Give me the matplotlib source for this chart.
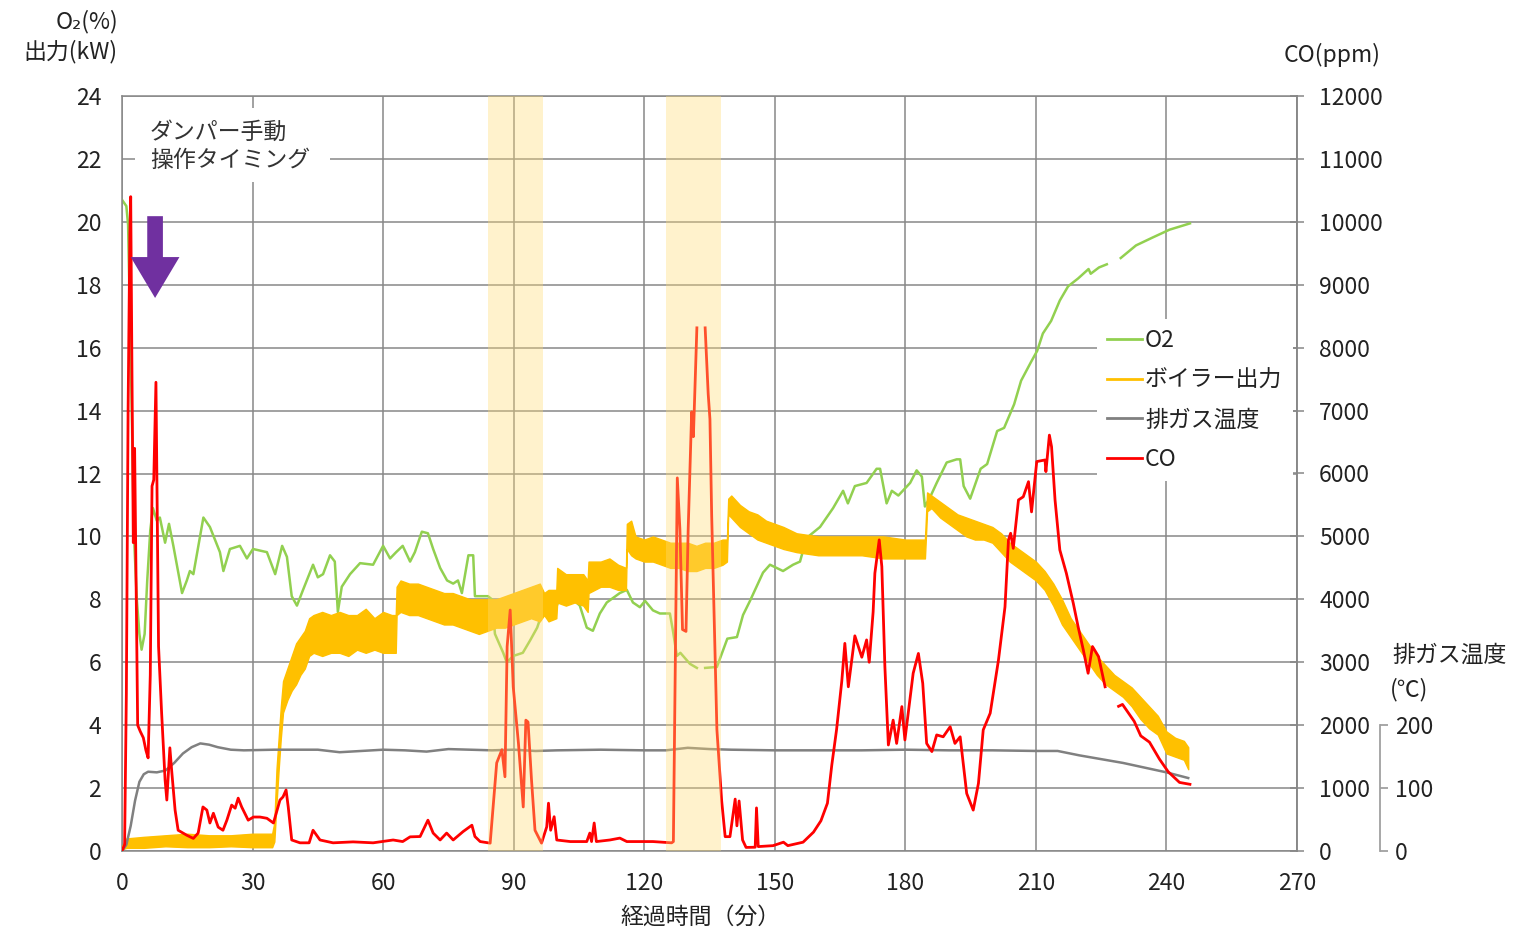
import matplotlib
matplotlib.use('Agg')
import matplotlib.pyplot as plt
import numpy as np
from matplotlib.lines import Line2D
from matplotlib.patches import FancyArrow, Rectangle

# ── data (time in minutes) ──────────────────────────────────────────
o2_t = [0.0, 0.5, 1.0, 1.4, 1.8, 2.3, 2.7, 3.4, 4.0, 4.5, 5.2, 5.8, 6.5, 7.1, 8.0, 8.7,
        9.9, 10.8, 11.8, 13.8, 14.9, 15.6, 16.4, 18.7, 20.2, 22.5, 23.3, 24.8, 27.1, 28.7,
        30.1, 33.3, 35.2, 36.8, 37.9, 39.0, 40.2, 41.6, 43.9, 45.0, 46.2, 47.8, 48.9, 49.6,
        50.5, 52.4, 54.7, 57.7, 60.0, 61.6, 63.0, 64.5, 66.2, 67.3, 68.9, 70.3, 71.5, 73.1,
        74.7, 76.1, 77.2, 78.1, 79.6, 80.7, 81.1, 84.1, 85.0, 85.7, 87.6, 88.4, 89.9, 92.1,
        93.8, 95.4, 96.5, 97.9, 99.5, 100.6, 102.2, 103.7, 105.2, 106.8, 108.2, 109.8, 111.4,
        114.4, 116.0, 117.4, 119.0, 120.2, 122.0, 123.6, 125.9, 126.6, 127.5, 128.3, 130.5,
        132.1, 133.0, 134.0, 136.7, 139.1, 141.3, 142.7, 144.3, 145.8, 147.3, 148.9, 151.9,
        154.2, 155.8, 157.3, 160.4, 163.4, 165.7, 166.8, 168.4, 171.1, 173.4, 174.2, 175.7,
        176.9, 178.4, 181.1, 182.6, 183.8, 184.5, 185.7, 187.2, 189.5, 191.8, 192.6, 193.4,
        194.9, 197.3, 198.8, 201.1, 202.7, 205.0, 206.6, 208.9, 210.3, 211.6, 213.5, 215.5,
        217.4, 219.7, 222.1, 222.6, 224.5, 226.3, 227.5, 229.5, 233.0, 236.8, 240.7, 245.4]
o2_v = [20.7, 20.6, 20.5, 19.9, 17.1, 13.6, 10.2, 8.0, 6.9, 6.4, 6.9, 8.6, 10.2, 10.9, 10.5, 10.6,
        9.8, 10.4, 9.7, 8.2, 8.6, 8.9, 8.8, 10.6, 10.3, 9.5, 8.9, 9.6, 9.7, 9.3,
        9.6, 9.5, 8.8, 9.7, 9.35, 8.1, 7.8, 8.3, 9.1, 8.7, 8.8, 9.4, 9.2, 7.6,
        8.4, 8.8, 9.15, 9.1, 9.7, 9.3, 9.5, 9.7, 9.2, 9.5, 10.15, 10.1, 9.6, 9.0,
        8.6, 8.5, 8.6, 8.2, 9.4, 9.4, 8.1, 8.1, 8.0, 6.9, 6.3, 6.0, 6.2, 6.3,
        6.7, 7.1, 7.55, 7.45, 7.65, 8.05, 7.9, 8.0, 7.8, 7.1, 7.0, 7.55, 7.9,
        8.2, 8.3, 7.9, 7.75, 7.95, 7.65, 7.55, 7.55, 7.0, 6.2, 6.3, 5.95,
        5.82, np.nan, 5.82, 5.85, 6.75, 6.8, 7.5, 7.95, 8.4, 8.85, 9.1, 8.9,
        9.1, 9.2, 9.95, 10.3, 10.9, 11.45, 11.05, 11.6, 11.7, 12.15, 12.15, 11.05,
        11.45, 11.3, 11.7, 12.1, 11.9, 10.95, 11.25, 11.7, 12.35, 12.45, 12.45, 11.6,
        11.2, 12.15, 12.3, 13.35, 13.45, 14.2, 14.95, 15.55, 15.9, 16.45, 16.85, 17.5,
        17.95, 18.2, 18.5, 18.35, 18.55, 18.65, np.nan, 18.85, 19.25, 19.5, 19.75, 19.95]

# boiler output: the trace is very noisy, kept as its lower / upper envelope
boiler_t = [0, 1, 5, 10, 15, 20, 25, 30, 34.5, 35, 35.5, 36, 36.5, 37, 38, 39, 40, 41, 42, 43,
            44, 46, 48, 50, 52, 54, 56, 58, 60, 62, 62.9, 63.1, 64, 66, 68, 70, 72, 74, 76, 78,
            80, 82, 84, 86, 88, 90, 92, 94, 96, 97, 98, 99.8, 100, 102, 104, 106, 107, 107.2,
            110, 112, 114, 115.8, 116, 117, 118, 120, 122, 124, 126, 128, 130, 132, 134, 136,
            138, 139, 139.3, 140, 142, 144, 146, 148, 150, 152, 155, 160, 165, 170, 175, 180,
            184.5, 185, 186, 188, 190, 192, 194, 196, 198, 200, 202, 204, 206, 208, 210, 212,
            214, 216, 218, 220, 222, 224, 226, 228, 230, 232, 234, 236, 238, 240, 242, 244, 245]
boiler_lo = [0.05, 0.1, 0.1, 0.15, 0.12, 0.12, 0.15, 0.12, 0.12, 0.3, 1.5, 2.6, 3.6, 4.4, 4.8, 5.1, 5.3, 5.6, 5.8, 6.2,
             6.3, 6.2, 6.3, 6.3, 6.2, 6.4, 6.3, 6.4, 6.3, 6.3, 6.3, 7.5, 7.6, 7.5, 7.5, 7.4, 7.3, 7.2, 7.2, 7.1,
             7.0, 6.9, 7.0, 7.1, 7.1, 7.2, 7.3, 7.4, 7.3, 7.5, 7.3, 7.4, 7.9, 7.8, 7.9, 7.8, 7.6, 8.2,
             8.4, 8.4, 8.3, 8.3, 9.6, 9.4, 9.3, 9.2, 9.2, 9.1, 9.0, 9.0, 8.9, 8.9, 9.0, 9.0,
             9.1, 9.2, 10.7, 10.6, 10.3, 10.1, 9.9, 9.8, 9.7, 9.6, 9.5, 9.4, 9.4, 9.4, 9.3, 9.3,
             9.3, 10.8, 10.9, 10.6, 10.4, 10.2, 10.0, 9.9, 9.9, 9.8, 9.5, 9.2, 9.0, 8.8, 8.6, 8.3,
             7.8, 7.2, 6.8, 6.4, 6.0, 5.6, 5.3, 5.1, 4.9, 4.6, 4.2, 3.9, 3.7, 3.1, 3.0, 2.9, 2.6]
boiler_hi = [0.15, 0.4, 0.45, 0.5, 0.55, 0.5, 0.5, 0.55, 0.55, 0.9, 2.6, 3.6, 4.6, 5.4, 5.8, 6.2, 6.6, 6.8, 7.0, 7.4,
             7.5, 7.6, 7.5, 7.6, 7.5, 7.5, 7.7, 7.4, 7.6, 7.5, 7.5, 8.4, 8.6, 8.5, 8.5, 8.4, 8.3, 8.2, 8.2, 8.1,
             8.0, 8.0, 8.0, 8.0, 8.1, 8.2, 8.3, 8.4, 8.5, 8.2, 8.3, 8.3, 9.0, 8.8, 8.8, 8.8, 8.6, 9.2,
             9.2, 9.3, 9.1, 9.0, 10.4, 10.5, 10.0, 9.9, 10.0, 9.9, 9.8, 9.8, 9.8, 9.7, 9.8, 9.8,
             9.9, 9.9, 11.2, 11.3, 11.0, 10.8, 10.7, 10.5, 10.4, 10.3, 10.1, 10.0, 10.0, 10.0, 10.0, 9.9,
             9.9, 11.4, 11.3, 11.1, 10.9, 10.7, 10.6, 10.5, 10.4, 10.3, 10.1, 9.8, 9.6, 9.4, 9.2, 8.9,
             8.5, 8.0, 7.4, 7.0, 6.6, 6.2, 5.9, 5.6, 5.4, 5.2, 4.9, 4.6, 4.3, 3.8, 3.6, 3.5, 3.3]

temp_t = [0, 1, 2, 3, 4, 5, 6, 8, 10, 12, 14, 16, 18, 20, 22, 25, 28, 35, 45, 50, 55, 60,
          65, 70, 75, 80, 85, 90, 95, 100, 110, 120, 125, 130, 135, 140, 150, 160, 170, 180,
          190, 200, 210, 215, 220, 230, 240, 245]
temp_c = [0, 10, 40, 80, 110, 122, 126, 125, 128, 140, 155, 165, 171, 169, 165, 161, 160, 161,
          161, 157, 159, 161, 160, 158, 162, 161, 160, 161, 159, 160, 161, 160, 160, 164, 162,
          161, 160, 160, 160, 161, 160, 160, 159, 159, 152, 140, 125, 116]

co_t = [0.0, 0.6, 1.0, 1.4, 1.8, 2.0, 2.3, 2.6, 2.9, 3.2, 3.6, 4.2, 4.9, 5.5, 6.0, 6.5, 6.9, 7.3,
        7.8, 8.1, 8.4, 9.1, 9.9, 10.3, 11.0, 11.4, 12.2, 12.9, 14.9, 16.4, 17.5, 18.6, 19.5,
        20.2, 21.0, 22.1, 23.2, 24.1, 25.2, 26.0, 26.7, 27.5, 29.0, 30.2, 31.7, 33.3, 34.8,
        36.3, 37.0, 37.7, 38.2, 39.0, 40.9, 43.0, 43.9, 45.5, 48.5, 53.1, 57.7, 62.3, 64.5,
        66.2, 68.5, 70.3, 71.5, 73.1, 74.6, 76.1, 78.4, 80.4, 81.1, 82.3, 84.6, 86.1, 87.3,
        88.0, 88.5, 89.2, 89.9, 91.1, 92.2, 92.8, 93.3, 94.1, 94.9, 96.4, 97.6, 98.0, 98.5,
        99.3, 99.9, 103.0, 106.8, 107.5, 107.9, 108.5, 109.0, 112.1, 114.4, 116.0, 122.0,
        126.3, 126.7, 127.6, 128.2, 128.8, 129.6, 130.1, 130.9, 131.3, 132.1, 133.0, 134.0,
        134.7, 135.1, 135.5, 136.7, 137.8, 138.6, 139.7, 140.9, 141.3, 141.8, 142.6, 143.4,
        145.5, 145.8, 146.2, 149.6, 152.0, 153.0, 156.5, 158.9, 160.6, 162.1, 163.1, 164.2,
        165.4, 166.1, 166.9, 168.4, 170.0, 171.1, 171.7, 172.6, 173.0, 174.0, 174.6, 175.3,
        176.1, 177.2, 178.0, 179.2, 179.9, 181.8, 183.0, 184.0, 184.9, 186.1, 187.2, 188.7,
        190.3, 191.4, 192.6, 194.1, 195.6, 196.8, 197.9, 199.5, 201.4, 202.9, 203.7, 204.2,
        204.8, 206.0, 207.1, 208.3, 209.0, 210.2, 212.1, 212.3, 213.1, 213.6, 214.4, 215.5,
        217.0, 218.6, 219.7, 220.9, 222.0, 223.0, 224.4, 225.9, 227.5, 229.0, 229.9, 232.6,
        234.1, 236.1, 238.4, 240.4, 243.0, 245.4]
co_ppm = [0, 100, 2500, 7000, 9800, 10400, 7500, 4900, 6400, 4500, 2000, 1900, 1800, 1600, 1480,
          2800, 5800, 5900, 7450, 5400, 3250, 2200, 1130, 810, 1640, 1290, 650, 330, 250, 200,
          285, 700, 650, 445, 600, 380, 330, 490, 730, 680, 840, 700, 490, 540, 540, 520, 445,
          810, 860, 970, 700, 175, 130, 130, 330, 175, 130, 145, 130, 175, 150, 225, 230, 490,
          285, 175, 285, 175, 310, 410, 230, 150, 125, 1400, 1610, 1180, 3250, 3830, 2610,
          1710, 700, 2080, 2050, 1130, 330, 125, 385, 760, 330, 545, 175, 150, 150, 285, 150,
          445, 150, 175, 205, 150, 150, 130, 150, 5930, 5110, 3520, 3490, 5110, 6980, 6585,
          8315, np.nan, 8315, 7265, 6865, 5335, 1930, 795, 228, 228, 825, 400, 795, 175, 57,
          60, 685, 70, 85, 140, 85, 140, 300, 480, 760, 1365, 1930, 2700, 3300, 2610, 3420,
          3080, 3355, 3000, 3800, 4415, 4945, 4520, 2930, 1685, 2080, 1710, 2295, 1765, 2825,
          3140, 2665, 1710, 1580, 1845, 1815, 1975, 1710, 1815, 915, 650, 1075, 1925, 2190,
          3035, 3880, 4945, 5050, 4810, 5580, 5630, 5870, 5390, 6190, 6215, 6030, 6610, 6425,
          5580, 4785, 4415, 3935, 3565, 3195, 2825, 3250, 3090, 2610, np.nan, 2300, 2330,
          2060, 1830, 1730, 1460, 1260, 1090, 1060]

# manual damper operation windows (minutes)
damper_windows = [(84.1, 96.7), (125.0, 137.6)]
x_ticks = list(range(0, 271, 30))
left_ticks = list(range(0, 25, 2))
co_ticks = list(range(0, 12001, 1000))
temp_ticks = [0, 100, 200]

C_O2 = '#92D050'
C_BOILER = '#FFC000'
C_TEMP = '#808080'
C_CO = '#FF0000'
C_GRID = '#878787'

plt.rcParams.update({
    'font.family': ['Noto Sans CJK JP', 'DejaVu Sans'],
    'font.size': 16.5,
    'text.color': '#222222',
    'xtick.color': '#222222',
    'ytick.color': '#222222',
})

W, H = 1530, 930
fig = plt.figure(figsize=(W / 100, H / 100), dpi=100)
ax = fig.add_axes([122 / W, 1 - 851 / H, (1297 - 122) / W, (851 - 96) / H])
ax_t = ax.twinx()
ax_co = ax.twinx()

# main axis: O2 and boiler output
ax.set_xlim(0, 270)
ax.set_ylim(0, 24)
ax.set_xticks(x_ticks)
ax.set_yticks(left_ticks)
ax.grid(True, color=C_GRID, linewidth=1.1)
ax.set_axisbelow(True)
for s in ax.spines.values():
    s.set_color(C_GRID)
    s.set_linewidth(1.1)
ax.tick_params(axis='y', length=0, pad=15)
ax.tick_params(axis='x', length=0, pad=15)

ax.plot(o2_t, o2_v, color=C_O2, lw=1.8, zorder=2)
ax.fill_between(boiler_t, boiler_lo, boiler_hi, color=C_BOILER, lw=1.0,
                edgecolor=C_BOILER, zorder=3)

# white box behind the annotation text
ax.add_patch(Rectangle((3.0, 21.27), 44.8, 2.35, facecolor='white',
                       edgecolor='none', zorder=4))
ax.text(6.4, 22.85, 'ダンパー手動', ha='left', va='center', zorder=5, color='#333333')
ax.text(6.4, 21.95, '操作タイミング', ha='left', va='center', zorder=5, color='#333333')

# exhaust temperature axis (short spine right of the CO axis)
ax_t.set_ylim(0, 1200)
ax_t.set_yticks(temp_ticks)
for k in ('left', 'top', 'bottom'):
    ax_t.spines[k].set_visible(False)
ax_t.spines['right'].set_position(('axes', (1380 - 122) / (1297 - 122)))
ax_t.spines['right'].set_bounds(0, 200)
ax_t.spines['right'].set_color('#A0A0A0')
ax_t.spines['right'].set_linewidth(1.3)
ax_t.tick_params(axis='y', direction='out', length=6, width=1.3, color='#A0A0A0', pad=5)
ax_t.plot(temp_t, temp_c, color=C_TEMP, lw=1.8, zorder=2)

# CO axis
ax_co.set_ylim(0, 12000)
ax_co.set_yticks(co_ticks)
for k in ('left', 'top', 'bottom'):
    ax_co.spines[k].set_visible(False)
ax_co.spines['right'].set_color(C_GRID)
ax_co.spines['right'].set_linewidth(1.1)
ax_co.tick_params(axis='y', direction='inout', length=10, width=1.1, color=C_GRID, pad=11)
ax_co.plot(co_t, co_ppm, color=C_CO, lw=2.0, zorder=2)

# shaded damper windows drawn over the traces
for a, b in damper_windows:
    ax_co.axvspan(a, b, color='#FFDC75', alpha=0.37, lw=0, zorder=6)

# purple arrow marking the damper timing
ax_co.add_patch(FancyArrow(7.6, 20.18, 0, -2.6, width=3.6, head_width=11.2,
                           head_length=1.3, length_includes_head=True,
                           color='#7030A0', lw=0, transform=ax.transData, zorder=7))

handles = [Line2D([], [], color=C_O2, lw=2),
           Line2D([], [], color=C_BOILER, lw=2),
           Line2D([], [], color=C_TEMP, lw=2),
           Line2D([], [], color=C_CO, lw=2)]
labels = ['O2', 'ボイラー出力', '排ガス温度', 'CO']
leg = ax_co.legend(handles, labels, loc='upper left',
                   bbox_to_anchor=(1097 / W, 1 - 319 / H), bbox_transform=fig.transFigure,
                   frameon=True, fancybox=False, framealpha=1, facecolor='white',
                   edgecolor='none', handlelength=1.5, handletextpad=0.15,
                   labelspacing=0.72, borderpad=0.45, borderaxespad=0)
leg.set_zorder(8)

# axis titles
fig.text(118 / W, 1 - 22 / H, 'O₂(%)', ha='right', va='center')
fig.text(118 / W, 1 - 52 / H, '出力(kW)', ha='right', va='center')
fig.text(1332 / W, 1 - 55 / H, 'CO(ppm)', ha='center', va='center')
fig.text(1392 / W, 1 - 655 / H, '排ガス温度', ha='left', va='center')
fig.text(1390 / W, 1 - 690 / H, '(℃)', ha='left', va='center')
fig.text(701 / W, 1 - 917 / H, '経過時間（分）', ha='center', va='center')

fig.savefig('out.png', dpi=100, facecolor='white')
